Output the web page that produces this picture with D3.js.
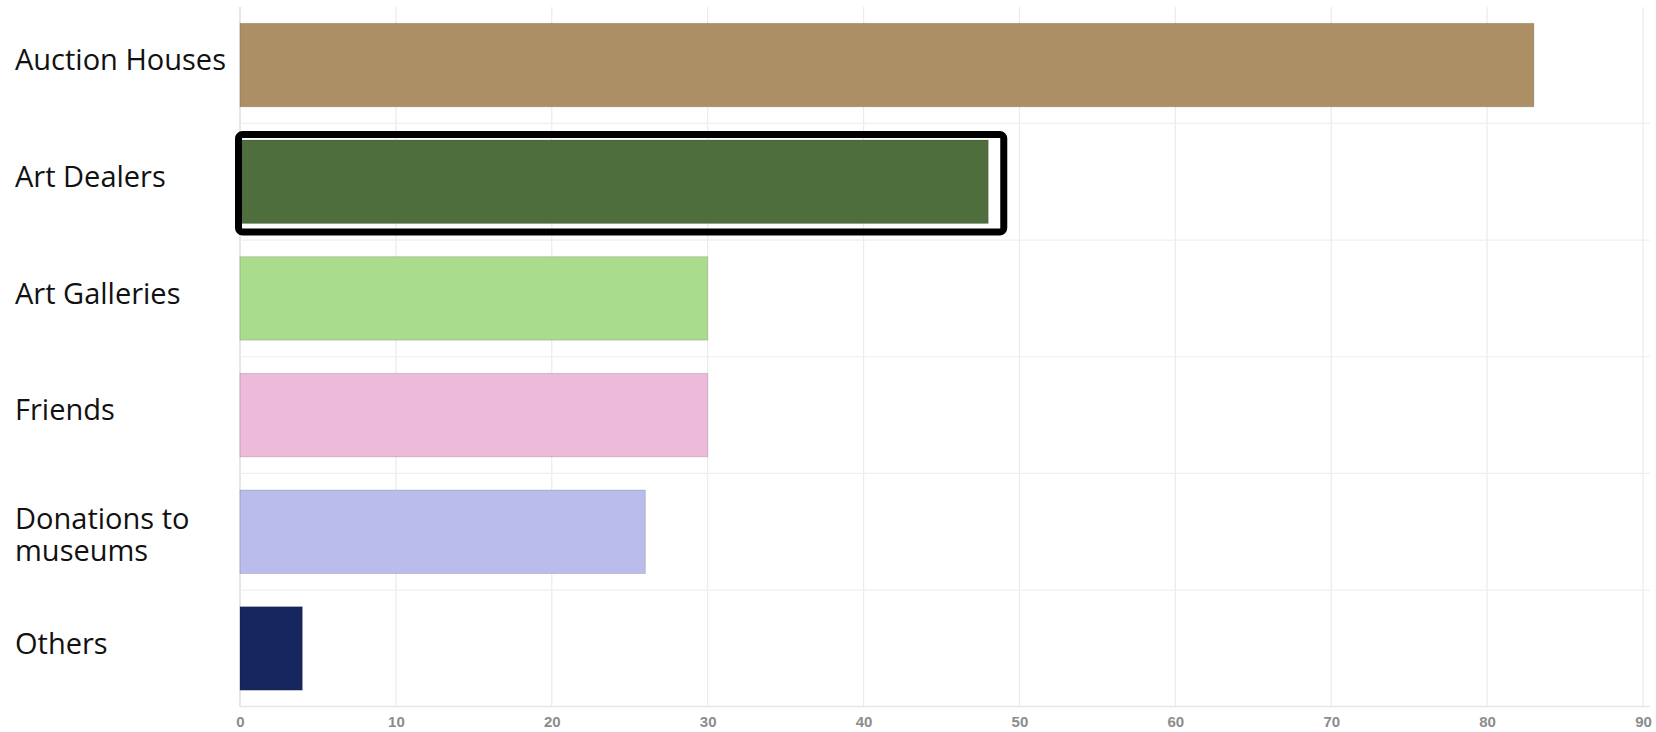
<!DOCTYPE html>
<html>
<head>
<meta charset="utf-8">
<script src="https://cdn.jsdelivr.net/npm/d3@7"></script>
<style>
  html, body { margin: 0; padding: 0; background: #fff; }
  svg { display: block; }
</style>
</head>
<body>
<svg id="chart" width="1656" height="732"></svg>
<script>
const categories = ["Auction Houses", "Art Dealers", "Art Galleries", "Friends", "Donations to museums", "Others"];
const labelLines = [["Auction Houses"], ["Art Dealers"], ["Art Galleries"], ["Friends"], ["Donations to", "museums"], ["Others"]];
const values = [83, 48, 30, 30, 26, 4];
const colors = ["#ac8f64", "#4f6e3d", "#aadc8d", "#ebbbd9", "#babdeb", "#15275e"];
const tickValues = [0, 10, 20, 30, 40, 50, 60, 70, 80, 90];
const highlighted = "Art Dealers";

const svg = d3.select("#chart");
const x = d3.scaleLinear().domain([0, 90]).range([240, 1643]);
const y = d3.scaleBand().domain(categories).range([7, 706.5]).paddingInner(0.285).paddingOuter(0.14);

// vertical gridlines
svg.append("g").selectAll("line").data(tickValues).join("line")
  .attr("x1", d => x(d)).attr("x2", d => x(d))
  .attr("y1", 7).attr("y2", 706.5)
  .attr("stroke", d => d === 0 ? "#d6d6d6" : "#ebebeb").attr("stroke-width", 1.2);

// horizontal band separators
const step = y.step();
svg.append("g").selectAll("line").data(categories.slice(1)).join("line")
  .attr("x1", 240).attr("x2", 1650)
  .attr("y1", d => y(d) - (step - y.bandwidth()) / 2)
  .attr("y2", d => y(d) - (step - y.bandwidth()) / 2)
  .attr("stroke", "#efefef").attr("stroke-width", 1.2);

// bottom axis line
svg.append("line").attr("x1", 240).attr("x2", 1650).attr("y1", 706.5).attr("y2", 706.5)
  .attr("stroke", "#e6e6e6").attr("stroke-width", 1.5);

// bars
svg.append("g").selectAll("rect").data(categories).join("rect")
  .attr("x", x(0))
  .attr("y", d => y(d))
  .attr("width", (d, i) => x(values[i]) - x(0))
  .attr("height", y.bandwidth())
  .attr("fill", (d, i) => colors[i])
  .attr("stroke", "rgba(0,0,0,0.15)").attr("stroke-width", 1);

// highlight box
const hi = categories.indexOf(highlighted);
svg.append("rect")
  .attr("x", x(0) - 1.5)
  .attr("y", y(highlighted) - 5.5)
  .attr("width", x(values[hi]) - x(0) + 17)
  .attr("height", y.bandwidth() + 14)
  .attr("rx", 4).attr("ry", 4)
  .attr("fill", "none").attr("stroke", "#000").attr("stroke-width", 7);

// x tick labels
const xAxis = d3.axisBottom(x).tickValues(tickValues).tickSize(0).tickPadding(0);
const gx = svg.append("g").attr("transform", "translate(0,716)").call(xAxis);
gx.select(".domain").remove();
gx.selectAll("text")
  .attr("dy", "0.71em")
  .attr("fill", "#8c8c8c")
  .style("font-family", "'Liberation Sans', Arial, sans-serif")
  .style("font-size", "15px")
  .style("font-weight", "bold");

// category labels
const fs = 29, lh = 32;
svg.append("g").selectAll("text").data(categories).join("text")
  .attr("y", d => y(d) + y.bandwidth() / 2 - 5)
  .attr("fill", "#111")
  .style("font-family", "'Open Sans', 'Noto Sans', sans-serif")
  .style("font-size", fs + "px")
  .each(function(d, i) {
    const lines = labelLines[i];
    const t = d3.select(this);
    lines.forEach((ln, j) => {
      t.append("tspan").attr("x", 15)
        .attr("dy", j === 0 ? (0.35 * fs - (lines.length - 1) * lh / 2 + (lines.length - 1) * 8) : lh)
        .text(ln);
    });
  });
</script>
</body>
</html>
